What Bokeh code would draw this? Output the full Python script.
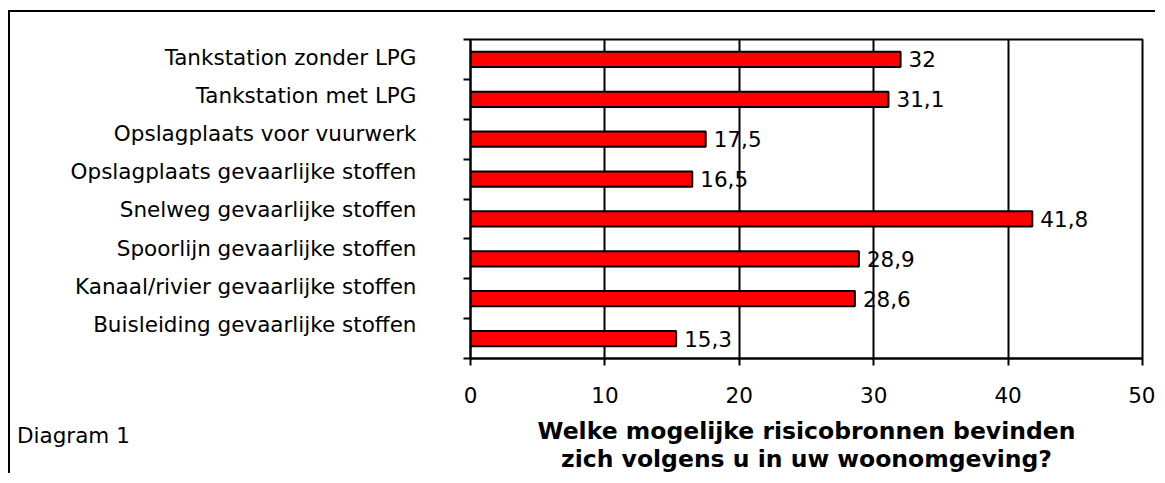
from bokeh.plotting import figure
from bokeh.layouts import column
from bokeh.models import (Range1d, LinearAxis, FixedTicker, Div, ColumnDataSource)
from bokeh.core.properties import value
from bokeh.embed import file_html
from bokeh.resources import INLINE

# ---- data -------------------------------------------------------------
categories = [
    "Tankstation zonder LPG",
    "Tankstation met LPG",
    "Opslagplaats voor vuurwerk",
    "Opslagplaats gevaarlijke stoffen",
    "Snelweg gevaarlijke stoffen",
    "Spoorlijn gevaarlijke stoffen",
    "Kanaal/rivier gevaarlijke stoffen",
    "Buisleiding gevaarlijke stoffen",
]
values = [32, 31.1, 17.5, 16.5, 41.8, 28.9, 28.6, 15.3]
x_ticks = [0, 10, 20, 30, 40, 50]
x_axis_title = "Welke mogelijke risicobronnen bevinden\nzich volgens u in uw woonomgeving?"
caption = "Diagram 1"


def fmt(v):
    return ("%g" % v).replace(".", ",")


n = len(categories)
value_labels = [fmt(v) for v in values]
# category slot (top category in the top slot)
slot = [n - i - 0.5 for i in range(n)]

src = ColumnDataSource(dict(cat=categories, pos=slot, val=values, lab=value_labels))

FONT = "DejaVu Sans"
FS = "21.5px"

p = figure(width=1147, height=463,
           y_range=Range1d(0, n),
           x_range=Range1d(x_ticks[0], x_ticks[-1]),
           output_backend="svg", toolbar_location=None,
           min_border_left=460, min_border_right=15,
           min_border_top=27, min_border_bottom=111)
p.styles = {"border-left": "2px solid black", "border-top": "2px solid black",
            "margin-top": "10px", "margin-left": "8px"}
p.background_fill_color = "white"
p.border_fill_color = "white"
p.outline_line_color = "black"
p.outline_line_width = 2
p.outline_line_alpha = 1

# grid
p.ygrid.visible = False
p.xgrid.ticker = FixedTicker(ticks=x_ticks)
p.xgrid.grid_line_color = "black"
p.xgrid.grid_line_width = 2
p.xgrid.grid_line_alpha = 1

# bars
p.hbar(y="pos", left=0, right="val", height=0.38, source=src,
       fill_color="#FF0000", line_color="black", line_width=2)

# value labels
p.text(x="val", y="pos", text="lab", source=src, x_offset=8,
       text_baseline="middle", text_align="left",
       text_font=value(FONT), text_font_size=FS, text_color="black")

# x axis
xa = p.xaxis[0]
xa.ticker = FixedTicker(ticks=x_ticks)
xa.axis_line_color = "black"
xa.axis_line_width = 2
xa.major_tick_line_color = "black"
xa.major_tick_line_width = 2
xa.major_tick_out = 7
xa.major_tick_in = 0
xa.minor_tick_line_color = None
xa.major_label_text_font = FONT
xa.major_label_text_font_size = FS
xa.major_label_text_color = "black"
xa.major_label_standoff = 21
xa.axis_label = x_axis_title
xa.axis_label_text_font = FONT
xa.axis_label_text_font_style = "bold"
xa.axis_label_text_font_size = "23.5px"
xa.axis_label_text_line_height = 1.0
xa.axis_label_text_color = "black"
xa.axis_label_standoff = 11

# y axis: ticks at category boundaries, no labels
ya = p.yaxis[0]
ya.ticker = FixedTicker(ticks=list(range(n + 1)))
ya.major_label_text_font_size = "1px"
ya.major_label_text_color = None
ya.major_label_standoff = 0
ya.major_tick_out = 7
ya.major_tick_in = 0
ya.major_tick_line_width = 2
ya.major_tick_line_color = "black"
ya.axis_line_width = 2
ya.axis_line_color = "black"
ya.minor_tick_line_color = None

# category names on their own scale
p.extra_y_ranges = {"labels": Range1d(-0.902, 7.477)}
label_axis = LinearAxis(y_range_name="labels",
                        ticker=FixedTicker(ticks=list(range(n))),
                        major_label_overrides={i: categories[n - 1 - i] for i in range(n)},
                        axis_line_color=None, major_tick_line_color=None,
                        minor_tick_line_color=None, major_tick_out=0, major_tick_in=0,
                        major_label_standoff=47,
                        major_label_text_font=FONT, major_label_text_font_size=FS,
                        major_label_text_color="black")
p.add_layout(label_axis, "left")

# caption in the lower-left corner of the chart area
cap = Div(text=caption,
          styles={"font-family": FONT, "font-size": FS, "color": "black",
                  "line-height": "1", "margin-top": "-48px", "margin-left": "17px"})

root = column(p, cap)
open("out.html", "w").write(file_html(root, INLINE))
